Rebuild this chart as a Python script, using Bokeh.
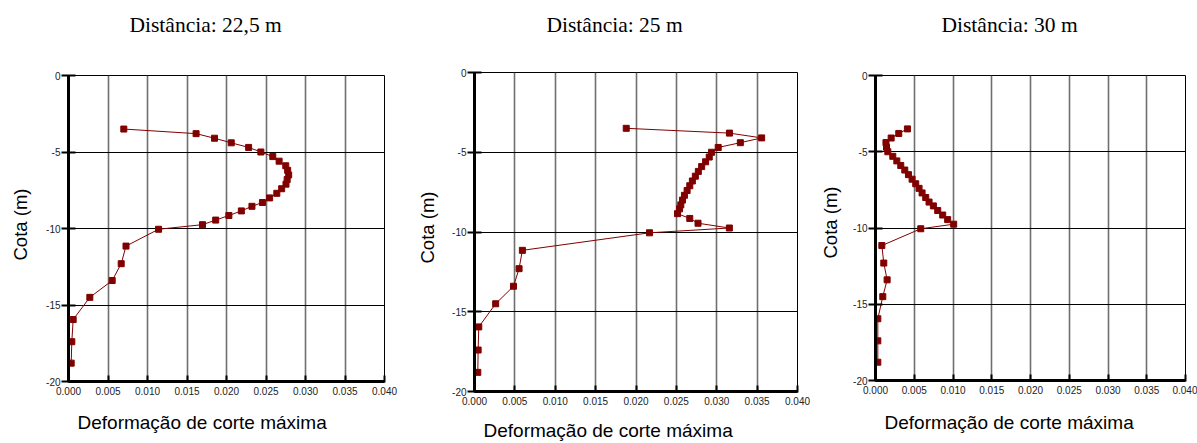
from bokeh.plotting import figure
from bokeh.models import Range1d, FixedTicker, Title
from bokeh.layouts import row, column
from bokeh.embed import file_html
from bokeh.resources import INLINE

# ---- data ----
titles = ["Distância: 22,5 m", "Distância: 25 m", "Distância: 30 m"]
x_label = "Deformação de corte máxima"
y_label = "Cota (m)"

cota = [-3.5, -3.8, -4.1, -4.4, -4.7, -5.0, -5.3, -5.6, -5.9, -6.2,
        -6.5, -6.8, -7.1, -7.4, -7.7, -8.0, -8.3, -8.55, -8.85, -9.15,
        -9.45, -9.75, -10.05, -11.15, -12.3, -13.4, -14.5, -15.95, -17.4, -18.8]

def_22_5 = [0.00700, 0.01615, 0.01848, 0.02060, 0.02280, 0.02435, 0.02586, 0.02666, 0.02750, 0.02774,
            0.02787, 0.02768, 0.02753, 0.02698, 0.02637, 0.02546, 0.02455, 0.02322, 0.02188, 0.02030,
            0.01863, 0.01696, 0.01140, 0.00728, 0.00667, 0.00553, 0.00270, 0.00059, 0.00042, 0.00034]

def_25 = [0.01879, 0.03157, 0.03556, 0.03292, 0.03018, 0.02936, 0.02907, 0.02862, 0.02813, 0.02772,
          0.02735, 0.02698, 0.02666, 0.02633, 0.02600, 0.02576, 0.02555, 0.02539, 0.02514, 0.02666,
          0.02768, 0.03156, 0.02167, 0.00593, 0.00552, 0.00483, 0.00262, 0.00053, 0.00045, 0.00041]

def_30 = [0.00412, 0.00300, 0.00202, 0.00135, 0.00142, 0.00159, 0.00223, 0.00275, 0.00326, 0.00378,
          0.00425, 0.00472, 0.00519, 0.00562, 0.00601, 0.00648, 0.00691, 0.00747, 0.00803, 0.00867,
          0.00931, 0.01009, 0.00584, 0.00082, 0.00107, 0.00150, 0.00094, 0.00030, 0.00030, 0.00030]

x_ticks = [0.0, 0.005, 0.010, 0.015, 0.020, 0.025, 0.030, 0.035, 0.040]
x_tick_labels = ["0.000", "0.005", "0.010", "0.015", "0.020", "0.025", "0.030", "0.035", "0.040"]
y_ticks = [0, -5, -10, -15, -20]
y_tick_labels = ["0", "-5", "-10", "-15", "-20"]

SERIES_COLOR = "#800000"


def spacer(gap):
    # an (invisible) title used only to push the real title away from the frame
    return Title(text=" ", text_font_size="1px", standoff=gap, text_color="white")


def make_panel(title, xs, ys, width, height, bl, bt, br, bb,
               t_gap, t_off, xl_gap, xl_off, yl_gap, yl_off):
    p = figure(width=width, height=height, title=None,
               x_range=Range1d(0, 0.04), y_range=Range1d(-20, 0),
               output_backend="svg", toolbar_location=None,
               min_border_left=bl, min_border_top=bt,
               min_border_right=br, min_border_bottom=bb)

    p.add_layout(spacer(t_gap), "above")
    p.add_layout(Title(text=title, align="left", offset=t_off, standoff=0,
                       text_font="Liberation Serif", text_font_size="21.5px",
                       text_font_style="normal", text_color="black"), "above")

    p.add_layout(spacer(xl_gap), "below")
    p.add_layout(Title(text=x_label, align="left", offset=xl_off, standoff=0,
                       text_font="Liberation Sans", text_font_size="19px",
                       text_font_style="normal", text_color="black"), "below")

    p.add_layout(spacer(yl_gap), "left")
    p.add_layout(Title(text=y_label, align="left", offset=yl_off, standoff=0,
                       text_font="Liberation Sans", text_font_size="18.5px",
                       text_font_style="normal", text_color="black"), "left")

    p.background_fill_color = "white"
    p.border_fill_color = "white"
    p.outline_line_color = "black"
    p.outline_line_width = 1

    p.xaxis.ticker = FixedTicker(ticks=x_ticks)
    p.xaxis.major_label_overrides = dict(zip(x_ticks, x_tick_labels))
    p.yaxis.ticker = FixedTicker(ticks=y_ticks)
    p.yaxis.major_label_overrides = {float(k): v for k, v in zip(y_ticks, y_tick_labels)}

    for ax in (p.xaxis, p.yaxis):
        ax.axis_line_width = 3
        ax.axis_line_color = "black"
        ax.major_tick_line_width = 2
        ax.major_tick_line_color = "black"
        ax.minor_tick_line_color = None
        ax.major_label_text_font = "Liberation Sans"
        ax.major_label_text_font_size = "10px"
        ax.major_label_text_color = "#222222"
    p.xaxis.major_tick_in = 6
    p.xaxis.major_tick_out = 1
    p.xaxis.major_label_standoff = 4
    p.yaxis.major_tick_in = 7
    p.yaxis.major_tick_out = 7
    p.yaxis.major_label_standoff = 1

    p.xgrid.grid_line_color = "#6e6e6e"
    p.xgrid.grid_line_width = 1.6
    p.ygrid.grid_line_color = "black"
    p.ygrid.grid_line_width = 1.2

    p.line(xs, ys, line_color=SERIES_COLOR, line_width=1)
    p.scatter(xs, ys, marker="square", size=6,
              fill_color=SERIES_COLOR, line_color=SERIES_COLOR)
    return p


p1 = make_panel(titles[0], def_22_5, cota, 414, 443, 68, 75, 30, 62,
                36, 61, 9, 9, 10, 121)
p2 = make_panel(titles[1], def_25, cota, 403, 443, 57, 72, 20, 52,
                33, 72, 7, 9, 9, 128)
p3 = make_panel(titles[2], def_30, cota, 380, 443, 58, 75, 12, 63,
                36, 66, 10, 9, 7, 122)

layout = row(column(p1), column(p2), column(p3))
open("out.html", "w").write(file_html(layout, INLINE))
